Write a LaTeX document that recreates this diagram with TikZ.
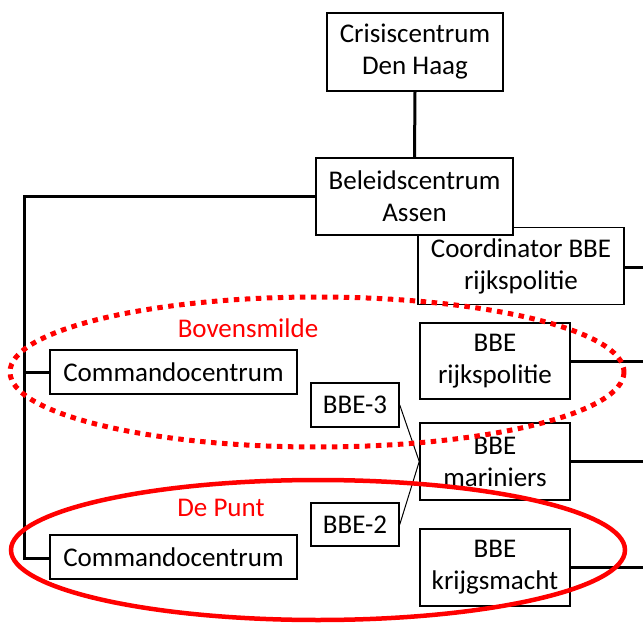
\documentclass[tikz,border=0pt]{standalone}
\usepackage{fontspec}
\setmainfont{Carlito}
\begin{document}
\begin{tikzpicture}[x=1pt,y=-1pt,
  box/.style={draw=black,line width=1.5pt,fill=white,align=center,inner sep=0pt,
    font=\fontsize{27}{32}\selectfont},
  conn/.style={draw=black,line width=3pt},
  thin/.style={draw=black,line width=1pt},
  redlabel/.style={text=red,font=\fontsize{27}{32}\selectfont,inner sep=0pt}]
\useasboundingbox (0,0) rectangle (643,623);
% boxes
\node[box,minimum width=176pt,minimum height=78pt] (crisis) at (415,52) {Crisiscentrum\\Den Haag};
\node[box,minimum width=206pt,minimum height=77pt] (coord) at (521,266) {Coordinator BBE\\rijkspolitie};
\node[box,minimum width=197pt,minimum height=77pt] (beleid) at (414.5,196.5) {Beleidscentrum\\Assen};
\node[box,minimum width=150pt,minimum height=76pt] (rijks) at (495,361) {BBE\\rijkspolitie};
\node[box,minimum width=150pt,minimum height=77pt] (marin) at (495,461.5) {BBE\\mariniers};
\node[box,minimum width=150pt,minimum height=77pt] (krijg) at (495,567.5) {BBE\\krijgsmacht};
\node[box,minimum width=247pt,minimum height=44pt] (cmd1) at (173.5,372) {Commandocentrum};
\node[box,minimum width=247pt,minimum height=44pt] (cmd2) at (173.5,557) {Commandocentrum};
\node[box,minimum width=88pt,minimum height=44pt] (bbe3) at (355,405) {BBE-3};
\node[box,minimum width=88pt,minimum height=43pt] (bbe2) at (355,524.5) {BBE-2};
% free ends
\coordinate (e1) at (643,267);
\coordinate (e2) at (643,361);
\coordinate (e3) at (643,461);
\coordinate (e4) at (643,567);
\coordinate (lt) at (24,197);
\coordinate (lb) at (24,558);
\coordinate (lm) at (24,372);
% connectors
\draw[conn] (crisis.south) -- (beleid.north);
\draw[conn,line join=miter] (beleid.west |- lt) -- (lt) -- (lb) -- (cmd2.west |- lb);
\draw[conn] (lm) -- (cmd1.west);
\draw[conn] (coord.east |- e1) -- (e1);
\draw[conn] (rijks.east) -- (e2);
\draw[conn] (marin.east |- e3) -- (e3);
\draw[conn] (krijg.east |- e4) -- (e4);
\draw[thin] (bbe3.east) -- (marin.west);
\draw[thin] (bbe2.east) -- (marin.west);
% ellipses
\draw[red,line width=5pt,dash pattern=on 5.5pt off 5.5pt] (317,372) ellipse [x radius=307, y radius=75];
\draw[red,line width=4.5pt] (318,550) ellipse [x radius=307, y radius=70];
\node[redlabel] (lbov) at (248,328) {Bovensmilde};
\node[redlabel] (lpunt) at (221,508) {De Punt};
\end{tikzpicture}
\end{document}
